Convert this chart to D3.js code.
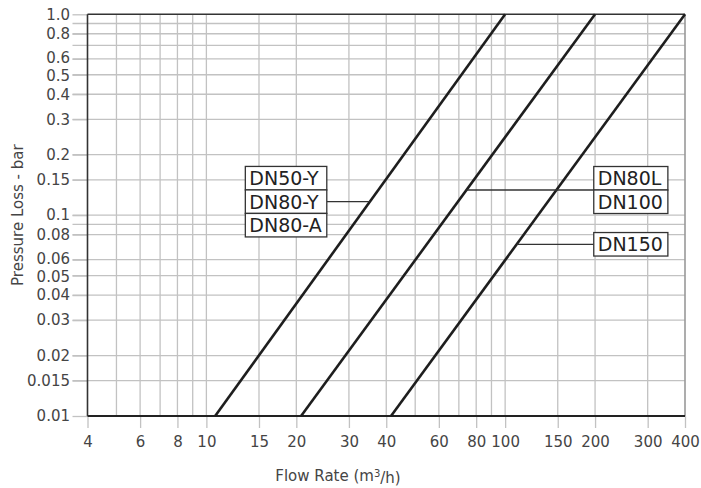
<!DOCTYPE html>
<html>
<head>
<meta charset="utf-8">
<script src="https://cdn.jsdelivr.net/npm/d3@7/dist/d3.min.js"></script>
<style>
  html, body { margin: 0; padding: 0; background: #fff; }
  svg { display: block; }
  text { font-family: "DejaVu Sans", "Liberation Sans", sans-serif; }
</style>
</head>
<body>
<svg id="chart" width="701" height="488"></svg>
<script>
// ---- data ----
const xTickValues = [4, 6, 8, 10, 15, 20, 30, 40, 60, 80, 100, 150, 200, 300, 400];
const xTickLabels = ["4", "6", "8", "10", "15", "20", "30", "40", "60", "80", "100", "150", "200", "300", "400"];
const xGridValues = [5, 6, 7, 8, 9, 10, 15, 20, 30, 40, 50, 60, 70, 80, 90, 100, 150, 200, 300];
const yTickValues = [1, 0.8, 0.6, 0.5, 0.4, 0.3, 0.2, 0.15, 0.1, 0.08, 0.06, 0.05, 0.04, 0.03, 0.02, 0.015, 0.01];
const yTickLabels = ["1.0", "0.8", "0.6", "0.5", "0.4", "0.3", "0.2", "0.15", "0.1", "0.08", "0.06", "0.05", "0.04", "0.03", "0.02", "0.015", "0.01"];
const yGridValues = [0.9, 0.8, 0.7, 0.6, 0.5, 0.4, 0.3, 0.2, 0.15, 0.1, 0.09, 0.08, 0.06, 0.05, 0.04, 0.03, 0.02, 0.015];

// curves: flow rate (m3/h) at pressure loss (bar)
const flowA = [10.7, 100];   // DN50-Y / DN80-Y / DN80-A
const lossA = [0.01, 1.0];
const flowB = [20.75, 200];  // DN80L / DN100
const lossB = [0.01, 1.0];
const flowC = [41.5, 400];   // DN150
const lossC = [0.01, 1.0];

// label groups
const labelsA = ["DN50-Y", "DN80-Y", "DN80-A"];
const labelsB = ["DN80L", "DN100"];
const labelsC = ["DN150"];
const leaderLoss = [0.1167, 0.1334, 0.0716];   // pressure at which the leader meets the curve
const boxFlow = [13.5, 198, 198];              // flow rate at box left edge

// ---- chart ----
const svg = d3.select("#chart");
const x = d3.scaleLog().domain([4, 400]).range([87.5, 685]);
const y = d3.scaleLog().domain([0.01, 1]).range([416, 14.3]);

const gridColor = "#c2c2c2";
const textColor = "#454545";

// grid
svg.append("g").selectAll("line").data(xGridValues).join("line")
  .attr("x1", d => x(d)).attr("x2", d => x(d))
  .attr("y1", y(1)).attr("y2", y(0.01))
  .attr("stroke", gridColor).attr("stroke-width", 1.3);
svg.append("g").selectAll("line").data(yGridValues).join("line")
  .attr("x1", x(4) - 15).attr("x2", x(400))
  .attr("y1", d => y(d)).attr("y2", d => y(d))
  .attr("stroke", gridColor).attr("stroke-width", 1.3);

// axes
const yAxis = d3.axisLeft(y).tickValues(yTickValues)
  .tickFormat((d, i) => yTickLabels[i]).tickSize(15).tickPadding(2.5);
const gy = svg.append("g").attr("transform", `translate(${x(4)},0)`).call(yAxis);
gy.select(".domain").remove();
gy.selectAll(".tick line").attr("stroke", gridColor).attr("stroke-width", 1.3);
gy.selectAll(".tick text").attr("fill", textColor).style("font-size", "15px")
  .attr("y", d => (d === 0.6 || d === 0.06) ? -1.2 : (d === 0.5 || d === 0.05) ? 1.2 : 0);

const xAxis = d3.axisBottom(x).tickValues(xTickValues)
  .tickFormat((d, i) => xTickLabels[i]).tickSize(12).tickPadding(8);
const gx = svg.append("g").attr("transform", `translate(0,${y(0.01)})`).call(xAxis);
gx.select(".domain").remove();
gx.selectAll(".tick line").attr("stroke", gridColor).attr("stroke-width", 1.3);
gx.selectAll(".tick text").attr("fill", textColor).style("font-size", "15px");
svg.selectAll("g").attr("font-family", null).attr("font-size", null);

// frame
svg.append("line").attr("x1", x(400)).attr("x2", x(400)).attr("y1", y(1)).attr("y2", y(0.01))
  .attr("stroke", "#999").attr("stroke-width", 1.6);
svg.append("line").attr("x1", x(4)).attr("x2", x(400)).attr("y1", y(1)).attr("y2", y(1))
  .attr("stroke", "#333").attr("stroke-width", 1.6);
svg.append("line").attr("x1", x(4)).attr("x2", x(400)).attr("y1", y(0.01)).attr("y2", y(0.01))
  .attr("stroke", "#222").attr("stroke-width", 1.8);
svg.append("line").attr("x1", x(4)).attr("x2", x(4)).attr("y1", y(1)).attr("y2", y(0.01))
  .attr("stroke", "#333").attr("stroke-width", 1.6);

// curves
const curves = [[flowA, lossA], [flowB, lossB], [flowC, lossC]];
const lineGen = d3.line().x(d => x(d[0])).y(d => y(d[1]));
curves.forEach(([f, l]) => {
  svg.append("path").datum(f.map((v, i) => [v, l[i]]))
    .attr("d", lineGen).attr("fill", "none")
    .attr("stroke", "#1e1e1e").attr("stroke-width", 2.6);
});

// flow on curve at a given loss (log-log interpolation)
function flowAt(f, l, p) {
  const t = (Math.log(p) - Math.log(l[0])) / (Math.log(l[1]) - Math.log(l[0]));
  return Math.exp(Math.log(f[0]) + t * (Math.log(f[1]) - Math.log(f[0])));
}

// label boxes
const leaderLayer = svg.append("g");
const boxLayer = svg.append("g");
const rowH = 23.5;
const groups = [labelsA, labelsB, labelsC];
const leaderOffset = [1.5, 1, 0.5];
const leaderSide = ["right", "left", "left"];
groups.forEach((labels, gi) => {
  const ly = y(leaderLoss[gi]);
  const top = ly - leaderOffset[gi] * rowH;
  const left = x(boxFlow[gi]);
  const g = boxLayer.append("g");
  const rects = g.selectAll("rect").data(labels).join("rect");
  const texts = g.selectAll("text").data(labels).join("text")
    .attr("x", left + 4)
    .attr("y", (d, i) => top + i * rowH + rowH / 2)
    .attr("dy", "0.36em")
    .attr("fill", "#222")
    .style("font-size", "19px")
    .text(d => d);
  let w = 0;
  texts.each(function () { w = Math.max(w, this.getComputedTextLength()); });
  const bw = w + 9;
  rects.attr("x", left).attr("y", (d, i) => top + i * rowH)
    .attr("width", bw).attr("height", rowH)
    .attr("fill", "#fff").attr("stroke", "#333").attr("stroke-width", 1.3);
  const [f, l] = curves[gi];
  const cx = x(flowAt(f, l, leaderLoss[gi]));
  const bx = leaderSide[gi] === "right" ? left + bw : left;
  leaderLayer.append("line")
    .attr("x1", cx).attr("x2", bx).attr("y1", ly).attr("y2", ly)
    .attr("stroke", "#333").attr("stroke-width", 1.3);
});

// axis titles
const xt = svg.append("text")
  .attr("x", 338).attr("y", 481).attr("text-anchor", "middle")
  .attr("fill", textColor).style("font-size", "15px");
xt.append("tspan").text("Flow Rate (m");
xt.append("tspan").attr("dy", "-0.45em").style("font-size", "10px").text("3");
xt.append("tspan").attr("dy", "0.45em").text("/h)");

svg.append("text")
  .attr("transform", `translate(23,${(y(1) + y(0.01)) / 2}) rotate(-90)`)
  .attr("text-anchor", "middle")
  .attr("fill", textColor).style("font-size", "15px")
  .text("Pressure Loss - bar");
</script>
</body>
</html>
